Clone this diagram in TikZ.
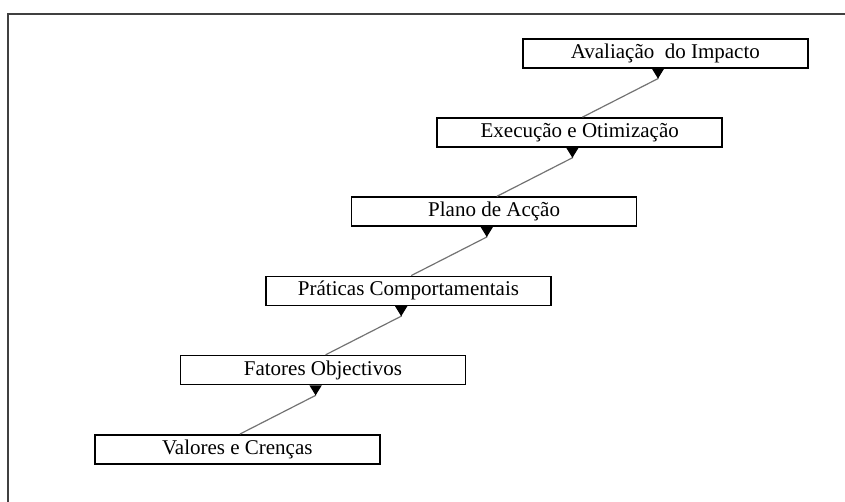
\documentclass[tikz,border=0pt]{standalone}
\usepackage{fontspec}
\setmainfont{Liberation Serif}
\usetikzlibrary{arrows.meta,calc}

\tikzset{
  stage/.style={draw=black, line width=1.6pt, fill=white, rectangle,
    minimum width=285pt, minimum height=29pt, inner sep=0pt,
    anchor=north west, font=\fontsize{21}{25}\selectfont},
  link/.style={draw=black!55, line width=1.2pt,
    {Triangle[reversed, width=12pt, length=10pt, color=black]}-},
  frame/.style={draw=black!75, line width=1.8pt}
}

\begin{document}
\begin{tikzpicture}[x=1pt, y=-1pt]
  \useasboundingbox (0,0) rectangle (845,502);

  % open frame: left and top rules
  \draw[frame] (8,503) -- (8,14) -- (846,14);

  % stages, bottom to top
  \node[stage] (s0) at (94,434)      {Valores e Crenças};
  \node[stage] (s1) at (179.6,354.8) {Fatores Objectivos};
  \node[stage] (s2) at (265.2,275.6) {Práticas Comportamentais};
  \node[stage] (s3) at (350.8,196.4) {Plano de Acção};
  \node[stage] (s4) at (436.4,117.2) {Execução e Otimização};
  \node[stage] (s5) at (522,38)      {Avaliação~~do Impacto};

  % links: head under each upper box, tail on top of the box below
  \foreach \lo/\up in {s0/s1, s1/s2, s2/s3, s3/s4, s4/s5} {
    \draw[link] ($(\up.south west)+(136,0)$) -- ++(0,10)
      -- ($(\lo.north west)+(146,0)$);
  }
\end{tikzpicture}
\end{document}
